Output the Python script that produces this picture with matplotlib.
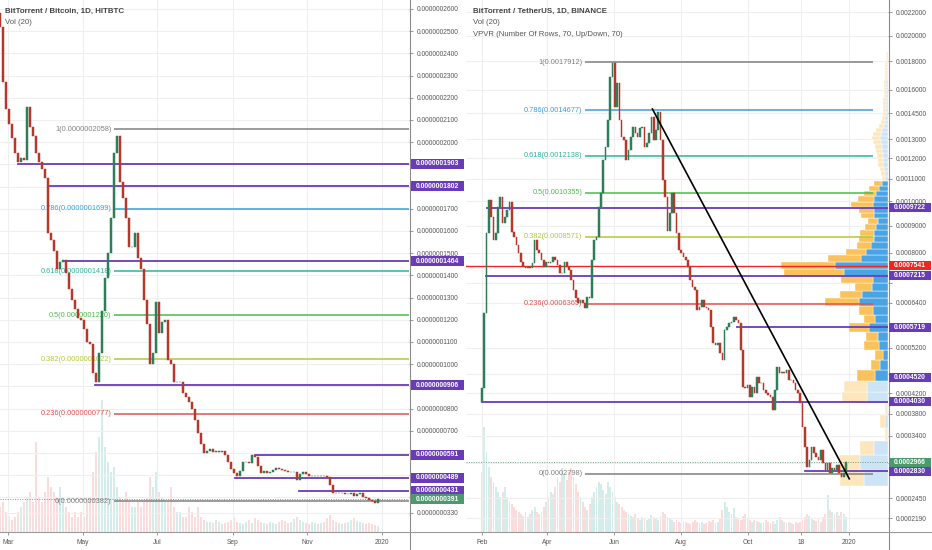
import numpy as np
import pandas as pd
import matplotlib
matplotlib.use("Agg")
import matplotlib.pyplot as plt
import matplotlib.dates as mdates
import matplotlib.transforms as mtrans
from matplotlib.patches import Rectangle
from matplotlib.lines import Line2D

plt.rcParams['font.family'] = ['Liberation Sans', 'DejaVu Sans']

# ======================= LEFT: BitTorrent / Bitcoin (price in 1e-9 BTC) =======================
left_title = "BitTorrent / Bitcoin, 1D, HITBTC"
left_first_open = 258
left_close = [252, 227, 215, 208, 202, 195, 191, 193, 192, 216,
              207, 203, 195, 191, 188, 184, 159, 156, 151, 143,
              146, 147, 141, 134, 129, 125, 121, 120, 116, 110,
              109, 96, 92, 105, 124, 139, 150, 166, 195, 203,
              182, 175, 166, 153, 153, 159, 148, 143, 129, 118,
              100, 105, 128, 114, 119, 120, 102, 100, 92, 92,
              92, 87, 85, 83, 80, 75, 69, 64, 60, 61,
              62, 60.5, 61, 60.5, 61, 59, 56, 53, 51, 49.5,
              52, 56, 56, 55.5, 59, 58, 54, 51, 52, 51,
              51.6, 52.4, 53.3, 53, 52.4, 52, 51.6, 51.6, 51.6, 48,
              50.5, 51.5, 50.5, 49.6, 49.8, 49.8, 49.6, 49.8, 49.6, 49,
              45.6, 42.2, 42, 42, 42, 41.5, 41.5, 41.8, 40.5, 41.5,
              42, 40, 39.7, 39, 38.2, 37.5, 39.1]
left_volume = [25, 30, 20, 15, 12, 15, 20, 25, 30, 35,
               40, 30, 90, 35, 30, 40, 55, 45, 40, 35,
               45, 35, 25, 20, 15, 20, 15, 20, 15, 30,
               35, 60, 80, 95, 132, 85, 70, 60, 65, 45,
               35, 30, 40, 30, 25, 25, 30, 25, 30, 35,
               55, 45, 60, 40, 35, 30, 30, 45, 25, 20,
               20, 15, 15, 25, 20, 15, 25, 15, 12, 10,
               10, 9, 12, 10, 8, 9, 10, 12, 15, 10,
               9, 8, 10, 12, 9, 14, 12, 10, 9, 8,
               10, 9, 8, 10, 12, 11, 9, 10, 13, 15,
               12, 10, 9, 8, 10, 9, 8, 9, 10, 14,
               17, 12, 10, 9, 8, 9, 10, 12, 14, 11,
               10, 9, 8, 9, 8, 7, 6]
left_start, left_end = "2019-02-22 06:00", "2019-12-29"
left_xlim = ("2019-02-22 05:30", "2020-01-23 10:00")
left_ylim = (24.41, 264.05)
left_fib_zero, left_fib_one = 38.18, 205.82
left_fib_start = "2019-05-27"
left_levels = [190.3, 180.2, 146.4, 90.6, 59.1, 48.9, 43.1]
left_level_start = ["2019-03-09", "2019-04-03", "2019-04-15", "2019-05-11",
                    "2019-09-19", "2019-09-03", "2019-10-25"]
left_last = 39.1
left_ticks = [260, 250, 240, 230, 220, 210, 200, 190, 180, 170, 160, 150, 140,
              130, 120, 110, 100, 90, 80, 70, 60, 50, 40, 33]
left_hidden_ticks = [190, 180, 90, 60, 50, 40]
left_month_ticks = ["2019-03-01", "2019-05-01", "2019-07-01", "2019-09-01",
                    "2019-11-01", "2020-01-01"]
left_month_labels = ["Mar", "May", "Jul", "Sep", "Nov", "2020"]

# ======================= RIGHT: BitTorrent / TetherUS =======================
right_title = "BitTorrent / TetherUS, 1D, BINANCE"
right_first_open = 0.000403
right_close = [0.00043, 0.000611, 0.000872, 0.001005, 0.000934, 0.000845, 0.000872, 0.000976, 0.001018, 0.00091,
               0.000934, 0.000962, 0.000997, 0.000875, 0.000856, 0.000827, 0.000798, 0.000768, 0.00075, 0.000747,
               0.00075, 0.000747, 0.000764, 0.000845, 0.000809, 0.000798, 0.000774, 0.00075, 0.000768, 0.000764,
               0.000768, 0.000785, 0.000774, 0.000757, 0.000731, 0.000731, 0.000768, 0.00075, 0.00074, 0.000708,
               0.000677, 0.000654, 0.000639, 0.000648, 0.000639, 0.000625, 0.000657, 0.000654, 0.000774, 0.000845,
               0.000856, 0.000976, 0.001035, 0.001191, 0.00126, 0.00141, 0.001685, 0.001786, 0.001488, 0.001645,
               0.00141, 0.001313, 0.001296, 0.001191, 0.001243, 0.001313, 0.001367, 0.001334, 0.001313, 0.001361,
               0.001367, 0.00126, 0.00128, 0.001334, 0.001428, 0.001296, 0.00135, 0.001458, 0.001296, 0.001094,
               0.001018, 0.00088, 0.00095, 0.001035, 0.00095, 0.000872, 0.000809, 0.000798, 0.000785, 0.000774,
               0.00075, 0.000708, 0.000687, 0.000677, 0.000619, 0.000628, 0.000648, 0.000628, 0.000625, 0.000619,
               0.000573, 0.000532, 0.000527, 0.000532, 0.000508, 0.000491, 0.000565, 0.000573, 0.000583, 0.000586,
               0.0006, 0.000591, 0.000583, 0.000516, 0.000433, 0.000431, 0.000437, 0.000412, 0.000433, 0.00042,
               0.000453, 0.00044, 0.00044, 0.000427, 0.00042, 0.000416, 0.000412, 0.000386, 0.000427, 0.000476,
               0.000462, 0.000464, 0.000462, 0.000469, 0.000447, 0.000447, 0.00044, 0.000427, 0.00042, 0.000401,
               0.000355, 0.000321, 0.00029, 0.0003, 0.000321, 0.000311, 0.000305, 0.0003, 0.000316, 0.000296,
               0.000285, 0.000296, 0.000281, 0.000288, 0.000285, 0.000293, 0.000281, 0.000275, 0.00028, 0.0002966]
right_volume = [60, 105, 80, 65, 55, 50, 45, 40, 35, 40,
                45, 35, 30, 28, 25, 22, 20, 18, 16, 20,
                15, 18, 22, 25, 20, 18, 20, 25, 30, 35,
                40, 38, 45, 55, 50, 64, 58, 52, 60, 64,
                55, 48, 40, 35, 30, 25, 22, 28, 35, 40,
                45, 50, 48, 42, 38, 50, 45, 40, 35, 30,
                28, 25, 22, 20, 18, 16, 15, 18, 14, 12,
                15, 13, 12, 14, 17, 15, 14, 12, 16, 20,
                18, 15, 14, 12, 10, 12, 10, 9, 11, 10,
                9, 8, 10, 12, 10, 9, 10, 8, 9, 11,
                10, 12, 9, 10, 14, 22, 30, 25, 20, 18,
                24, 15, 14, 12, 16, 18, 14, 12, 10, 12,
                11, 10, 9, 10, 12, 10, 9, 11, 8, 12,
                15, 12, 10, 9, 10, 9, 8, 10, 9, 10,
                12, 15, 18, 16, 14, 12, 11, 13, 10, 15,
                18, 37, 22, 20, 18, 20, 16, 20, 18, 15]
right_start, right_end = "2019-02-01", "2019-12-29"
right_xlim = ("2019-01-17 11:00", "2020-02-05 05:00")
right_ylim = (0.00020226, 0.0023122)
right_fib_zero, right_fib_one = 0.0002798, 0.00179118
right_fib_start, right_fib_end = "2019-05-06", "2020-01-23"
right_levels = [0.0009722, 0.0007215, 0.0005719, 0.0004030, 0.0002830]
right_level_start = ["2019-02-06", "2019-02-05", "2019-09-21", "2019-02-01", "2019-11-22"]
right_box_only = [0.0004520]
right_red_level = 0.0007541
right_last = 0.0002966
right_trend_dates = ["2019-07-06", "2020-01-01"]
right_trend_prices = [0.001476, 0.000272]
right_ticks = [0.0022, 0.0020, 0.0018, 0.0016, 0.00145, 0.0013, 0.0012, 0.0011, 0.0010,
               0.0009, 0.0008, 0.0007, 0.00064, 0.00052, 0.00046, 0.00042, 0.00038,
               0.00034, 0.000295, 0.000245, 0.000219]
right_hidden_ticks = [0.0007, 0.00046, 0.000295]
right_month_ticks = ["2019-02-01", "2019-04-01", "2019-06-01", "2019-08-01",
                     "2019-10-01", "2019-11-18", "2020-01-01"]
right_month_labels = ["Feb", "Apr", "Jun", "Aug", "Oct", "18", "2020"]

# VPVR: 70 rows between low and high; up (blue) and down (yellow) volume per row
vpvr_low, vpvr_high = 0.000262, 0.00187
vpvr_up = [24, 28, 14, 1, 3, 1, 21, 21, 13, 8,
           5, 9, 10, 19, 13, 15, 29, 26, 16, 15,
           44, 53, 27, 22, 17, 14, 14, 12, 10, 14,
           14, 15, 14, 12, 9, 6, 3, 3, 4, 5,
           5, 5, 6, 6, 7, 8, 7, 6, 4, 3,
           3, 2, 2, 2, 2, 2, 2, 2, 2, 2,
           2, 1, 1, 1, 1, 1, 1, 1, 1, 1]
vpvr_down = [24, 21, 14, 2, 5, 2, 25, 23, 18, 9,
             8, 15, 12, 20, 11, 14, 34, 22, 17, 32,
             60, 54, 33, 20, 14, 15, 14, 11, 10, 13,
             15, 22, 16, 12, 10, 8, 3, 4, 4, 5,
             5, 6, 6, 7, 8, 8, 8, 6, 5, 4,
             3, 3, 3, 3, 3, 3, 2, 2, 2, 2,
             2, 2, 2, 2, 2, 2, 2, 1, 1, 1]
vpvr_value_area = (8, 35)

# ======================= styling =======================
W, H = 932, 550
UP, DOWN = '#2f7d59', '#b3392d'
PURPLE, RED, LASTG = '#6a3bb8', '#f0261f', '#4a9a6e'
GRID = '#efefef'
TXT = '#555555'
FIB_COLORS = {0: '#808080', 0.236: '#e0524c', 0.382: '#b2c83c', 0.5: '#4cbb4a',
              0.618: '#2bb59a', 0.786: '#3a9fd6', 1: '#808080'}
FIB_LEVELS = [0, 0.236, 0.382, 0.5, 0.618, 0.786, 1]

fig = plt.figure(figsize=(W / 100, H / 100), dpi=100)
fig.patch.set_facecolor('white')


def make_axes(x0, w):
    rect = [x0 / W, 18 / H, w / W, 532 / H]
    vax = fig.add_axes(rect, zorder=0)
    ax = fig.add_axes(rect, zorder=1)
    ax.patch.set_alpha(0)
    for a in (vax, ax):
        for s in a.spines.values():
            s.set_visible(False)
    vax.set_xticks([]); vax.set_yticks([])
    return ax, vax


def D(s):
    return mdates.date2num(pd.Timestamp(s))


def setup(ax, vax, xlim, ylim, yticks, ylabels, mticks, mlabels):
    ax.set_xlim(D(xlim[0]), D(xlim[1]))
    vax.set_xlim(D(xlim[0]), D(xlim[1]))
    ax.set_ylim(*ylim)
    ax.yaxis.tick_right()
    ax.set_yticks(yticks)
    ax.set_yticklabels(ylabels, fontsize=4.8, color=TXT)
    ax.set_xticks([D(m) for m in mticks])
    ax.set_xticklabels(mlabels, fontsize=4.8, color=TXT)
    ax.tick_params(axis='y', length=3, width=0.6, color='#888888', pad=2.5)
    ax.tick_params(axis='x', length=2, width=0.6, color='#888888', pad=3)
    ax.grid(True, color=GRID, linewidth=0.8, zorder=0)
    ax.set_axisbelow(True)


def candles(ax, vax, start, end, first_open, close, volume, vtop_px):
    close = np.asarray(close, float)
    dates = mdates.date2num(pd.date_range(start, end, periods=len(close)))
    opens = np.concatenate([[first_open], close[:-1]])
    period = dates[1] - dates[0]
    up = close >= opens
    cols = np.where(up, UP, DOWN)
    ax.bar(dates, np.abs(close - opens), bottom=np.minimum(opens, close), width=period * 0.72,
           color=cols, edgecolor=cols, linewidth=0.35, zorder=6)
    vcols = np.where(up, '#26a69a', '#ef5350')
    vol = np.asarray(volume, float)
    vax.bar(dates, vol, width=period * 0.8, color=vcols, alpha=0.2, linewidth=0)
    vax.set_ylim(0, vol.max() * 532 / vtop_px)
    return dates


def price_box(ax, value, text, color, x0, x1, h=10):
    yd = ax.transData.transform((ax.get_xlim()[0], value))[1]
    fig.add_artist(Rectangle((x0, yd - h / 2), x1 - x0, h, transform=mtrans.IdentityTransform(),
                             facecolor=color, edgecolor='none', zorder=5))
    fig.text((x0 + x1) / 2 / W, yd / H, text, ha='center', va='center', color='white',
             fontsize=4.9, fontweight='bold', zorder=6)


def fib(ax, zero, one, start, end, fmt):
    for lv in FIB_LEVELS:
        p = zero + lv * (one - zero)
        c = FIB_COLORS[lv]
        ax.plot([D(start), end], [p, p], color=c, lw=1.1, zorder=3, solid_capstyle='butt')
        ax.annotate(f"{lv:g}({fmt(p)})", xy=(D(start), p), xytext=(-2, 0), textcoords='offset points',
                    ha='right', va='center', fontsize=5.3, color=c, zorder=4)


# ------------------------------- LEFT PANEL -------------------------------
axL, vaxL = make_axes(0, 409)
setup(axL, vaxL, left_xlim, left_ylim, left_ticks,
      ["" if t in left_hidden_ticks else f"{t * 1e-9:.10f}" for t in left_ticks],
      left_month_ticks, left_month_labels)
candles(axL, vaxL, left_start, left_end, left_first_open, left_close, left_volume, 132)
fmtL = lambda p: f"{p * 1e-9:.10f}"
fib(axL, left_fib_zero, left_fib_one, left_fib_start, axL.get_xlim()[1], fmtL)
for lv, st in zip(left_levels, left_level_start):
    axL.plot([D(st), axL.get_xlim()[1]], [lv, lv], color=PURPLE, lw=1.3, zorder=3)
axL.axhline(left_last, color='#6f9f84', lw=0.7, ls=(0, (1, 1.5)), zorder=2)
for lv in left_levels:
    price_box(axL, lv, fmtL(lv), PURPLE, 411, 464)
price_box(axL, left_last, fmtL(left_last), LASTG, 411, 464)

# ------------------------------- RIGHT PANEL -------------------------------
axR, vaxR = make_axes(466, 422)
fwd = lambda p: np.log10(np.clip(np.asarray(p, float) + 1e-4, 1e-12, None))
inv = lambda v: 10 ** np.asarray(v, float) - 1e-4
axR.set_yscale('function', functions=(fwd, inv))
setup(axR, vaxR, right_xlim, right_ylim, right_ticks,
      ["" if t in right_hidden_ticks else f"{t:.7f}" for t in right_ticks],
      right_month_ticks, right_month_labels)
axR.yaxis.set_minor_locator(matplotlib.ticker.NullLocator())
candles(axR, vaxR, right_start, right_end, right_first_open, right_close, right_volume, 105)
fmtR = lambda p: f"{p:.7f}"
fib(axR, right_fib_zero, right_fib_one, right_fib_start, D(right_fib_end), fmtR)

# VPVR
rows = len(vpvr_up)
hrow = (vpvr_high - vpvr_low) / rows
tot = np.array(vpvr_up) + np.array(vpvr_down)
scale = 0.2536 / tot.max()
blend = mtrans.blended_transform_factory(axR.transAxes, axR.transData)
for k in range(rows):
    inside = vpvr_value_area[0] <= k <= vpvr_value_area[1]
    yb, yc = ('#f9c25a', '#4aa3e2') if inside else ('#fde6bb', '#cde4f7')
    y0 = vpvr_low + k * hrow
    wu = vpvr_up[k] * scale
    wd = vpvr_down[k] * scale
    axR.add_patch(Rectangle((1 - wu, y0), wu, hrow, transform=blend, facecolor=yc,
                            edgecolor='white', linewidth=0.3, zorder=2))
    axR.add_patch(Rectangle((1 - wu - wd, y0), wd, hrow, transform=blend, facecolor=yb,
                            edgecolor='white', linewidth=0.3, zorder=2))

for lv, st in zip(right_levels, right_level_start):
    axR.plot([D(st), axR.get_xlim()[1]], [lv, lv], color=PURPLE, lw=1.3, zorder=3)
axR.axhline(right_red_level, color=RED, lw=1.0, zorder=3)
axR.axhline(right_last, color='#6f9f84', lw=0.7, ls=(0, (1, 1.5)), zorder=2)
axR.plot([D(d) for d in right_trend_dates], right_trend_prices, color='black', lw=1.2, zorder=7)
for lv in right_levels + right_box_only:
    price_box(axR, lv, fmtR(lv), PURPLE, 889, 931, h=9)
price_box(axR, right_red_level, fmtR(right_red_level), RED, 889, 931, h=9)
price_box(axR, right_last, fmtR(right_last), LASTG, 889, 931, h=9)

# ------------------------------- frame lines -------------------------------
for x in (409.5, 888.5):
    fig.add_artist(Line2D([x / W, x / W], [0, 1], color='#8c8c8c', lw=0.8, zorder=4))
fig.add_artist(Line2D([0, 1], [18 / H, 18 / H], color='#9a9a9a', lw=0.8, zorder=4))

# ------------------------------- headers -------------------------------
def ftext(x, y, s, **kw):
    fig.text(x / W, 1 - y / H, s, ha='left', va='center', **kw)

ftext(5, 11, left_title, fontsize=5.7, fontweight='bold', color='#444444')
ftext(5, 23, "Vol (20)", fontsize=5.6, color=TXT)
ftext(473, 11, right_title, fontsize=5.7, fontweight='bold', color='#444444')
ftext(473, 23, "Vol (20)", fontsize=5.6, color=TXT)
ftext(473, 34, "VPVR (Number Of Rows, 70, Up/Down, 70)", fontsize=5.6, color=TXT)

fig.savefig("out.png", dpi=100, facecolor='white')
